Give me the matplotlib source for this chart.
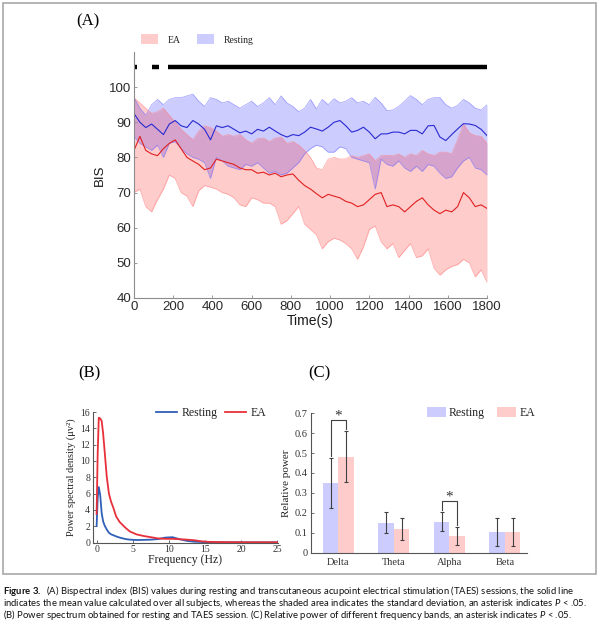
"""Figure 3 re-draw: BIS time course (A), power spectrum (B), band power (C)."""

import matplotlib.pyplot as plt
from matplotlib.patches import Patch, Rectangle

W, H = 600, 626
SERIF = "Liberation Serif"
SANS = "Liberation Sans"

# ---- (A) BIS, one sample every 30 s ----
time_s = list(range(0, 1801, 30))
rest_mean = [92.5, 90, 88.5, 89.5, 88, 86.5, 89.5, 90.5, 89, 88.5, 90.5, 89.5, 88, 85,
             89, 88.5, 89, 88, 87, 87.5, 86.7, 88, 87.5, 88.6, 87.5, 86.5, 85.8, 86.5,
             86.2, 87.2, 88.6, 88.1, 87.5, 88.6, 90, 90.5, 89, 87.2, 87.7, 88.6, 87.2,
             85.3, 86.7, 86.7, 87.2, 87.2, 86.7, 87.7, 87.7, 86.7, 89, 89.1, 85.8, 84.8,
             86.5, 88.1, 89.6, 89.5, 89.1, 88, 86.2]
rest_upper = [97, 94, 92, 95, 96.5, 95, 96.5, 97, 97, 97.5, 98, 96, 94.5, 97, 96.5,
              95.5, 96, 95, 94, 95, 96, 94.5, 95.5, 97, 95, 97.5, 95.5, 94.5, 93, 94,
              96.5, 93.8, 96.5, 95, 96.7, 95.5, 96, 97, 95.5, 96, 95, 97.1, 95.5, 93.3,
              93.5, 94.5, 96, 97.6, 96.5, 95, 96.5, 97, 97, 95, 94, 94.8, 96.5, 95.5, 94,
              93.5, 95]
rest_lower = [86, 84, 83, 82, 83.5, 80, 84, 84.5, 82.5, 81, 80, 79.5, 78.5, 74, 80, 79,
              77.5, 77, 76.5, 78, 77.5, 78.5, 77, 75.5, 76, 75, 75.5, 77, 78.5, 81, 82.5,
              83.5, 83, 81.5, 81.5, 83, 82.5, 80, 79.5, 79, 78.5, 71, 79.5, 78, 77.5, 79,
              77, 76, 77.5, 76, 78, 77.5, 75.5, 74, 74.5, 77, 79, 80, 77, 76.5, 75]
ea_mean = [82, 86, 82, 81, 80.5, 82.5, 84, 85, 82.5, 80, 79, 78, 76.5, 77, 79.5, 79,
           78.5, 78, 77, 76.5, 76.5, 75.5, 75.8, 75, 75.5, 74.5, 75, 75.3, 73.5, 72, 71,
           69.7, 68.5, 69.5, 69, 68.5, 67.5, 67, 66, 66.5, 68, 69.5, 70, 66, 66.5, 66,
           64.5, 66, 67.5, 68.5, 66.5, 65, 64, 65, 64.5, 66, 70, 68.5, 66, 66.5, 65.5]
ea_upper = [97, 95.5, 94, 92.5, 93, 94, 92, 90, 88, 86.5, 85, 87.5, 89, 88.5, 87.5,
            86, 86.5, 86, 86.5, 85, 84, 85.3, 85.5, 84.5, 85.5, 85.8, 84, 84.5, 83.5,
            82, 80, 77, 76.5, 79.5, 80, 79.5, 79.6, 80.5, 80, 80.5, 81, 79, 80.5, 80.6,
            80.5, 81, 80, 81, 80.5, 82, 81, 80.5, 81.5, 81.5, 81, 85, 89.5, 87, 86.2, 86,
            84]
ea_lower = [70, 71, 66, 64.5, 68, 71, 75, 74, 70, 69, 66, 70.5, 72, 71.5, 71, 70, 69.5,
            68.5, 66.5, 66, 68.5, 68, 67, 67, 66, 61, 62, 64, 66, 61, 59.5, 58, 54, 56,
            57, 56.5, 55.5, 54, 51, 54.5, 59.5, 60.5, 56, 54, 55.5, 51.5, 53.5, 55.5,
            51.5, 52, 54, 48.5, 46.5, 48, 49, 49.5, 51, 50, 46, 48, 44.5]
# windows with P < .05 (asterisk bar)
sig_start = [4, 90, 175]
sig_end = [16, 130, 1800]

# ---- (B) power spectrum ----
freq_hz = [0, 0.15, 0.3, 0.5, 0.7, 0.9, 1.1, 1.4, 1.7, 2.0, 2.3, 2.7, 3.2, 4.0, 4.6,
           5.5, 6.5, 7.5, 8.5, 9.5, 10.5, 11.5, 12.5, 13.5, 14.5, 15.5, 17, 20, 25]
psd_rest = [2, 5.5, 6.8, 5.8, 3.6, 2.6, 2.1, 1.6, 1.2, 1.0, 0.9, 0.75, 0.6, 0.42, 0.35,
            0.3, 0.32, 0.35, 0.42, 0.6, 0.65, 0.4, 0.2, 0.1, 0.06, 0.04, 0.03, 0.02, 0.02]
psd_ea = [3.5, 11, 15.3, 15.2, 14.9, 13.4, 11.3, 8.1, 6.0, 5.0, 4.3, 3.2, 2.5, 1.8, 1.35,
          1.0, 0.8, 0.65, 0.5, 0.45, 0.45, 0.4, 0.35, 0.28, 0.15, 0.08, 0.05, 0.03, 0.02]

# ---- (C) relative band power ----
bands = ["Delta", "Theta", "Alpha", "Beta"]
rel_rest = [0.348, 0.150, 0.155, 0.105]
rel_rest_sd = [0.125, 0.052, 0.047, 0.070]
rel_ea = [0.482, 0.119, 0.083, 0.103]
rel_ea_sd = [0.127, 0.055, 0.043, 0.070]
sig_bands = [0, 2]  # Delta, Alpha

CAPTION = [
    r"$\mathbf{Figure\ 3.}$  (A) Bispectral index (BIS) values during resting and "
    r"transcutaneous acupoint electrical stimulation (TAES) sessions, the solid line",
    r"indicates the mean value calculated over all subjects, whereas the shaded area "
    r"indicates the standard deviation, an asterisk indicates $P$ < .05.",
    r"(B) Power spectrum obtained for resting and TAES session. (C) Relative power of "
    r"different frequency bands, an asterisk indicates $P$ < .05.",
]

plt.rcParams.update({
    "mathtext.fontset": "custom",
    "mathtext.rm": "Lato",
    "mathtext.it": "Lato:italic",
    "mathtext.bf": "Lato:bold",
    "xtick.direction": "in",
    "ytick.direction": "in",
})


def box(x0, y0, x1, y1):
    """pixel box (top-left origin) -> add_axes rect"""
    return [x0 / W, 1 - y1 / H, (x1 - x0) / W, (y1 - y0) / H]


def pt(x, y):
    return x / W, 1 - y / H


def style_axes(ax, spine_c, tick_c, size, family):
    for s in ("top", "right"):
        ax.spines[s].set_visible(False)
    for s in ("left", "bottom"):
        ax.spines[s].set_color(spine_c)
        ax.spines[s].set_linewidth(0.8)
    ax.tick_params(length=2.5, width=0.6, color=spine_c, labelcolor=tick_c,
                   labelsize=size, pad=2)
    for lab in ax.get_xticklabels() + ax.get_yticklabels():
        lab.set_family(family)


fig = plt.figure(figsize=(W / 100, H / 100), dpi=100)
fig.patches.append(Rectangle(pt(3, 574), 593 / W, 571 / H, transform=fig.transFigure,
                             fill=False, ec="#a8a8a8", lw=1.2))

# ---------------- (A) ----------------
ax = fig.add_axes(box(134, 52, 487, 298))
ax.fill_between(time_s, rest_lower, rest_upper, color="#0000ff", alpha=0.2, lw=0)
ax.plot(time_s, rest_upper, color="#7070ff", lw=0.6, alpha=0.6)
ax.plot(time_s, rest_lower, color="#7070ff", lw=0.6, alpha=0.6)
ax.fill_between(time_s, ea_lower, ea_upper, color="#ff0000", alpha=0.2, lw=0)
ax.plot(time_s, ea_upper, color="#ff8080", lw=0.6, alpha=0.6)
ax.plot(time_s, ea_lower, color="#ff8080", lw=0.6, alpha=0.6)
ax.plot(time_s, rest_mean, color="#2a2ad0", lw=0.8)
ax.plot(time_s, ea_mean, color="#e02020", lw=0.8)
ax.hlines([105.7] * len(sig_start), sig_start, sig_end, color="black", lw=3.2)
ax.set_xlim(0, 1800)
ax.set_ylim(40, 110)
ax.set_xticks(range(0, 1801, 200))
ax.set_yticks(range(40, 101, 10))
style_axes(ax, "#8c8c8c", "#2a2a2a", 9.5, SANS)
ax.set_xlabel("Time(s)", family=SANS, fontsize=10, color="#1a1a1a", labelpad=1)
ax.set_ylabel("BIS", family=SANS, fontsize=9.5, color="#1a1a1a", labelpad=2)
fig.legend(handles=[Patch(fc="#ffcccc", ec="none", label="EA"),
                    Patch(fc="#ccccff", ec="none", label="Resting")],
           loc="center left", bbox_to_anchor=pt(132, 39.5), ncol=2, frameon=False,
           prop={"family": SERIF, "size": 7}, handlelength=1.8, handleheight=1.2,
           handletextpad=1.0, columnspacing=1.6, labelcolor="#222222")
fig.text(*pt(88, 21), "(A)", family=SERIF, fontsize=12, ha="center", va="center")

# ---------------- (B) ----------------
axb = fig.add_axes(box(93, 412, 278, 542.5))
axb.plot(freq_hz, psd_rest, color="#2f5fb8", lw=1.3, label="Resting")
axb.plot(freq_hz, psd_ea, color="#e8303a", lw=1.3, label="EA")
axb.set_xlim(-0.5, 25.1)
axb.set_ylim(0, 16)
axb.set_xticks(range(0, 26, 5))
axb.set_yticks(range(0, 17, 2))
style_axes(axb, "#555555", "#333333", 7, SERIF)
axb.set_xlabel("Frequency (Hz)", family=SERIF, fontsize=8.5, labelpad=0, color="#222222")
axb.set_ylabel("Power spectral density (μv²)", family=SERIF, fontsize=7.5,
               labelpad=3, color="#222222")
axb.legend(loc="center left", bbox_to_anchor=pt(145, 413), bbox_transform=fig.transFigure,
           ncol=2, frameon=False, prop={"family": SERIF, "size": 8.5}, handlelength=1.8,
           handletextpad=0.4, columnspacing=0.6, labelcolor="#222222")
fig.text(*pt(89, 373), "(B)", family=SERIF, fontsize=12, ha="center", va="center")

# ---------------- (C) ----------------
axc = fig.add_axes(box(310.7, 413.3, 527, 552.5))
pos = [1, 2, 3, 4]
bw = 0.28
xr = [p - bw / 2 for p in pos]
xe = [p + bw / 2 for p in pos]
err_kw = {"ecolor": "#404040", "elinewidth": 0.8, "capsize": 1.6, "capthick": 0.8}
axc.bar(xr, rel_rest, bw, yerr=rel_rest_sd, color="#ccccff", label="Resting", error_kw=err_kw)
axc.bar(xe, rel_ea, bw, yerr=rel_ea_sd, color="#ffcccc", label="EA", error_kw=err_kw)
for i in sig_bands:
    top_r = rel_rest[i] + rel_rest_sd[i]
    top_e = rel_ea[i] + rel_ea_sd[i]
    yb = max(top_r, top_e) + 0.055
    axc.plot([xr[i], xr[i], xe[i], xe[i]], [top_r + 0.012, yb, yb, top_e + 0.012],
             color="#404040", lw=0.8)
    axc.text(pos[i], yb - 0.012, "*", family=SERIF, fontsize=11, ha="center",
             va="bottom", color="#333333")
axc.set_xlim(0.5, 4.4)
axc.set_ylim(0, 0.7)
axc.set_xticks(pos)
axc.set_xticklabels(bands)
axc.set_yticks([0, 0.1, 0.2, 0.3, 0.4, 0.5, 0.6, 0.7])
axc.set_yticklabels(["0", "0.1", "0.2", "0.3", "0.4", "0.5", "0.6", "0.7"])
style_axes(axc, "#555555", "#333333", 7.5, SERIF)
axc.tick_params(axis="x", length=0, pad=4)
axc.set_ylabel("Relative power", family=SERIF, fontsize=8, labelpad=3, color="#222222")
axc.legend(loc="center left", bbox_to_anchor=pt(416, 413), bbox_transform=fig.transFigure,
           ncol=2, frameon=False, prop={"family": SERIF, "size": 8.5}, handlelength=1.6,
           handleheight=1.0, handletextpad=0.3, columnspacing=1.0, labelcolor="#222222")
fig.text(*pt(319, 373), "(C)", family=SERIF, fontsize=12, ha="center", va="center")

# ---------------- caption ----------------
cap_y = [591, 603, 615]
texts = [fig.text(*pt(3, y), line, family="Lato", fontsize=6, va="center",
                  color="#111111") for line, y in zip(CAPTION, cap_y)]
fig.canvas.draw()
r = fig.canvas.get_renderer()
scale = 572 / texts[0].get_window_extent(r).width
for t in texts:
    t.set_fontsize(6 * scale)

fig.savefig("out.png", dpi=100)
